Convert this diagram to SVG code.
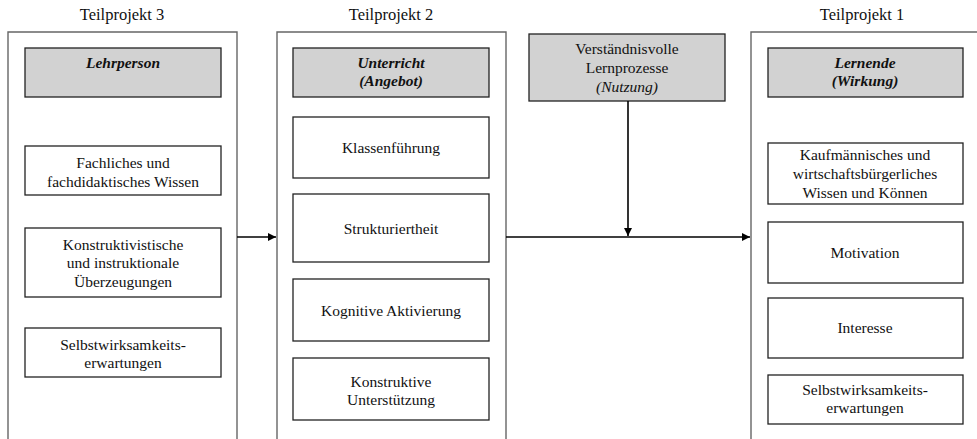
<svg xmlns="http://www.w3.org/2000/svg" width="977" height="439" viewBox="0 0 977 439">
<defs>
<style>
text{font-family:'Liberation Serif','Times New Roman','DejaVu Serif',serif;fill:#111;text-anchor:middle}
.h{font-size:16.5px}
.t{font-size:15.5px}
.b{font-size:15.5px;font-weight:bold;font-style:italic}
.i{font-style:italic}
.panel{fill:none;stroke:#666;stroke-width:1.4}
.box{fill:#fff;stroke:#222;stroke-width:1.3}
.gbox{fill:#d2d2d2;stroke:#222;stroke-width:1.3}
.conn{fill:none;stroke:#000;stroke-width:1.6}
</style>
<marker id="arr" viewBox="0 0 10 10" refX="10" refY="5" markerWidth="9" markerHeight="8" markerUnits="userSpaceOnUse" orient="auto">
<path d="M0,0 L10,5 L0,10 z" fill="#000"/>
</marker>
</defs>
<rect width="977" height="439" fill="#fff"/>

<g font-family="Liberation Serif, serif">
<g id="teilprojekt3">
<text class="h" x="122" y="20">Teilprojekt 3</text>
<path class="panel" d="M8,440 V32 H237 V440"/>
</g>
<g id="teilprojekt2">
<text class="h" x="391" y="20">Teilprojekt 2</text>
<path class="panel" d="M277,440 V32 H506 V440"/>
</g>
<g id="teilprojekt1">
<text class="h" x="862" y="20">Teilprojekt 1</text>
<path class="panel" d="M751,440 V32 H980"/>
</g>

<g id="lehrperson">
<rect class="gbox" x="25" y="48" width="196" height="49"/>
<text class="b" x="123" y="68">Lehrperson</text>
</g>
<g id="fachwissen">
<rect class="box" x="25" y="146" width="196" height="49"/>
<text class="t" x="123" y="168">Fachliches und</text>
<text class="t" x="123" y="187">fachdidaktisches Wissen</text>
</g>
<g id="ueberzeugungen">
<rect class="box" x="25" y="228" width="196" height="69"/>
<text class="t" x="123" y="250">Konstruktivistische</text>
<text class="t" x="123" y="268">und instruktionale</text>
<text class="t" x="123" y="287">Überzeugungen</text>
</g>
<g id="selbstwirksamkeit-lehrperson">
<rect class="box" x="25" y="328" width="196" height="49"/>
<text class="t" x="123" y="350">Selbstwirksamkeits-</text>
<text class="t" x="123" y="368">erwartungen</text>
</g>

<g id="unterricht">
<rect class="gbox" x="293" y="48" width="196" height="49"/>
<text class="b" x="391" y="68">Unterricht</text>
<text class="b" x="391" y="86">(Angebot)</text>
</g>
<g id="klassenfuehrung">
<rect class="box" x="293" y="117" width="196" height="61"/>
<text class="t" x="391" y="153">Klassenführung</text>
</g>
<g id="strukturiertheit">
<rect class="box" x="293" y="194" width="196" height="68"/>
<text class="t" x="391" y="234">Strukturiertheit</text>
</g>
<g id="aktivierung">
<rect class="box" x="293" y="279" width="196" height="62"/>
<text class="t" x="391" y="316">Kognitive Aktivierung</text>
</g>
<g id="unterstuetzung">
<rect class="box" x="293" y="358" width="196" height="62"/>
<text class="t" x="391" y="387">Konstruktive</text>
<text class="t" x="391" y="405">Unterstützung</text>
</g>

<g id="lernprozesse">
<rect class="gbox" x="529" y="34" width="196" height="67"/>
<text class="t" x="627" y="54">Verständnisvolle</text>
<text class="t" x="627" y="73">Lernprozesse</text>
<text class="t i" x="627" y="92">(Nutzung)</text>
</g>

<g id="lernende">
<rect class="gbox" x="768" y="48" width="195" height="49"/>
<text class="b" x="865" y="68">Lernende</text>
<text class="b" x="865" y="86">(Wirkung)</text>
</g>
<g id="wissen-koennen">
<rect class="box" x="768" y="143" width="195" height="61"/>
<text class="t" x="865" y="160">Kaufmännisches und</text>
<text class="t" x="865" y="179">wirtschaftsbürgerliches</text>
<text class="t" x="865" y="198">Wissen und Können</text>
</g>
<g id="motivation">
<rect class="box" x="768" y="222" width="195" height="61"/>
<text class="t" x="865" y="258">Motivation</text>
</g>
<g id="interesse">
<rect class="box" x="768" y="298" width="195" height="60"/>
<text class="t" x="865" y="333">Interesse</text>
</g>
<g id="selbstwirksamkeit-lernende">
<rect class="box" x="768" y="375" width="195" height="49"/>
<text class="t" x="865" y="395">Selbstwirksamkeits-</text>
<text class="t" x="865" y="413">erwartungen</text>
</g>
</g>

<g id="connectors">
<line class="conn" x1="237" y1="237" x2="276" y2="237" marker-end="url(#arr)"/>
<line class="conn" x1="506" y1="237" x2="750" y2="237" marker-end="url(#arr)"/>
<line class="conn" x1="628" y1="101" x2="628" y2="236" marker-end="url(#arr)"/>
</g>
</svg>
